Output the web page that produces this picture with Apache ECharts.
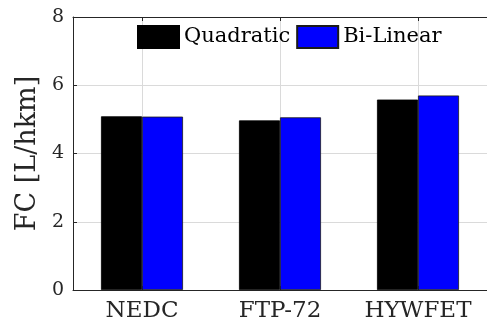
<!DOCTYPE html>
<html>
<head>
<meta charset="utf-8">
<script src="https://cdn.jsdelivr.net/npm/echarts@6/dist/echarts.min.js"></script>
<style>
html,body{margin:0;padding:0;background:#fff;}
#c{width:487px;height:327px;}
</style>
</head>
<body>
<div id="c"></div>
<script>
const categories = ['NEDC', 'FTP-72', 'HYWFET'];
const quadratic = [5.09, 4.97, 5.58];
const biLinear = [5.08, 5.06, 5.70];
const yTicks = [0, 2, 4, 6, 8];

const FONT = 'DejaVu Serif';
const INK = '#262626';
const chart = echarts.init(document.getElementById('c'), null, {renderer: 'canvas'});
chart.setOption({
  animation: false,
  backgroundColor: '#fff',
  grid: {left: 73, top: 17, right: -9, bottom: 37, containLabel: false},
  legend: {
    left: 137, top: 25,
    padding: 0,
    icon: 'rect',
    itemWidth: 41, itemHeight: 22, itemGap: 6,
    textStyle: {fontFamily: FONT, fontSize: 21, color: '#000', lineHeight: 22},
    data: ['Quadratic', 'Bi-Linear']
  },
  xAxis: [{
    type: 'category',
    data: categories,
    position: 'bottom',
    axisLine: {show: true, lineStyle: {color: INK, width: 1}},
    axisTick: {show: true, inside: true, alignWithLabel: true, length: 4, lineStyle: {color: INK}},
    axisLabel: {fontFamily: FONT, fontSize: 23, color: INK, margin: 10, interval: 0, hideOverlap: false},
    splitLine: {show: true, alignWithLabel: true, interval: 0, lineStyle: {color: '#dadada', width: 1}}
  }, {
    type: 'category',
    data: categories,
    position: 'top',
    axisLine: {show: true, onZero: false, lineStyle: {color: INK, width: 1}},
    axisTick: {show: true, inside: true, alignWithLabel: true, interval: 0, length: 4, lineStyle: {color: INK}},
    axisLabel: {show: false},
    splitLine: {show: false}
  }],
  yAxis: {
    type: 'value',
    min: yTicks[0], max: yTicks[yTicks.length - 1], interval: 2,
    name: 'FC [L/hkm]',
    nameLocation: 'middle',
    nameGap: 31,
    nameTextStyle: {fontFamily: FONT, fontSize: 27, color: INK},
    axisLine: {show: true, lineStyle: {color: INK, width: 1}},
    axisTick: {show: true, inside: true, length: 4, lineStyle: {color: INK}},
    axisLabel: {fontFamily: FONT, fontSize: 19, color: INK, margin: 9},
    splitLine: {show: true, lineStyle: {color: '#dadada', width: 1}}
  },
  series: [{
    name: 'Quadratic',
    type: 'bar',
    data: quadratic,
    barWidth: 41,
    barGap: '0%',
    itemStyle: {color: '#000000', borderColor: '#000000', borderWidth: 0.8}
  }, {
    name: 'Bi-Linear',
    type: 'bar',
    data: biLinear,
    barWidth: 41,
    barGap: '0%',
    itemStyle: {color: '#0000ff', borderColor: '#1a1a1a', borderWidth: 0.8}
  }]
});
</script>
</body>
</html>
